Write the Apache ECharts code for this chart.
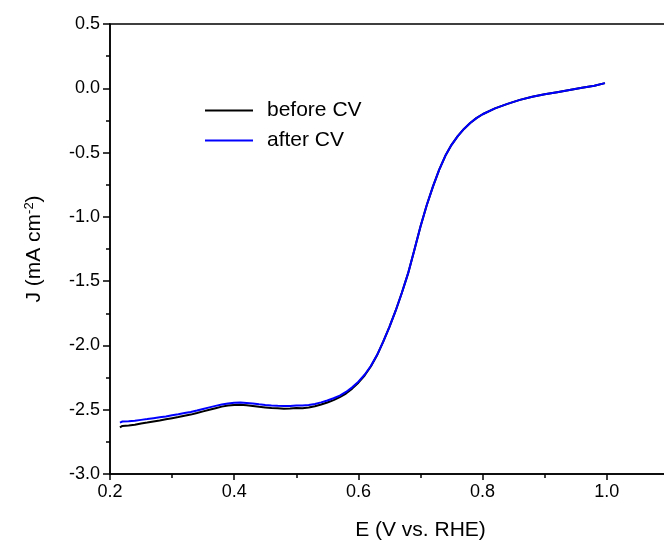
<!DOCTYPE html>
<html>
<head>
<meta charset="utf-8">
<script src="https://cdn.jsdelivr.net/npm/echarts@6/dist/echarts.min.js"></script>
<style>
  html, body { margin: 0; padding: 0; background: #fff; }
  #chart { width: 664px; height: 548px; }
</style>
</head>
<body>
<div id="chart"></div>
<script>
// potential (V vs. RHE)
const potentials = [
  0.216, 0.22, 0.23, 0.24, 0.25, 0.26, 0.27, 0.28, 0.29, 0.30, 0.31, 0.32, 0.33, 0.34, 0.35,
  0.36, 0.37, 0.38, 0.39, 0.40, 0.41, 0.42, 0.43, 0.44, 0.45, 0.46, 0.47, 0.48, 0.49, 0.50,
  0.51, 0.52, 0.53, 0.54, 0.55, 0.56, 0.57, 0.58, 0.59, 0.60, 0.61, 0.62, 0.63, 0.64, 0.65,
  0.66, 0.67, 0.68, 0.69, 0.70, 0.71, 0.72, 0.73, 0.74, 0.75, 0.76, 0.77, 0.78, 0.79, 0.80,
  0.82, 0.84, 0.86, 0.88, 0.90, 0.92, 0.94, 0.96, 0.98, 0.997
]

// current density, mA cm-2
const afterCV = [
  -2.600, -2.592, -2.590, -2.586, -2.579, -2.573, -2.566, -2.559, -2.552, -2.543, -2.535, -2.526, -2.517, -2.506, -2.494,
  -2.482, -2.470, -2.460, -2.451, -2.445, -2.444, -2.448, -2.452, -2.458, -2.463, -2.467, -2.470, -2.472, -2.471, -2.468,
  -2.468, -2.463, -2.455, -2.443, -2.428, -2.411, -2.390, -2.362, -2.326, -2.282, -2.228, -2.160, -2.075, -1.970, -1.855,
  -1.730, -1.590, -1.440, -1.260, -1.075, -0.910, -0.765, -0.635, -0.525, -0.440, -0.372, -0.316, -0.270, -0.232, -0.202,
  -0.156, -0.121, -0.090, -0.066, -0.047, -0.030, -0.013, 0.004, 0.020, 0.040
]

const beforeCV = [
  -2.638, -2.626, -2.622, -2.617, -2.607, -2.600, -2.592, -2.584, -2.575, -2.566, -2.557, -2.547, -2.538, -2.526, -2.513,
  -2.500, -2.488, -2.476, -2.468, -2.463, -2.462, -2.466, -2.471, -2.477, -2.482, -2.487, -2.489, -2.492, -2.490, -2.487,
  -2.489, -2.483, -2.473, -2.460, -2.444, -2.425, -2.402, -2.374, -2.336, -2.290, -2.234, -2.164, -2.077, -1.971, -1.856,
  -1.730, -1.590, -1.440, -1.260, -1.075, -0.910, -0.765, -0.635, -0.525, -0.440, -0.372, -0.316, -0.270, -0.232, -0.202,
  -0.156, -0.121, -0.090, -0.066, -0.047, -0.030, -0.013, 0.004, 0.020, 0.040
]

const font = 'Liberation Sans, Arial, sans-serif'
const pairs = ys => potentials.map((x, i) => [x, ys[i]])
const lineIcon = 'path://M0,0 L48,0 L48,2 L0,2 Z'

const chart = echarts.init(document.getElementById('chart'))

chart.setOption({
  animation: false,
  backgroundColor: '#fff',
  grid: {
    left: 110, top: 24, width: 621, height: 450,
    outerBoundsMode: 'none', containLabel: false,
    show: true, borderColor: '#000', borderWidth: 1.5, backgroundColor: 'transparent'
  },
  legend: {
    orient: 'vertical',
    left: 205, top: 100, padding: 0,
    itemWidth: 48, itemHeight: 2, itemGap: 9,
    textStyle: { fontFamily: font, fontSize: 21, color: '#000', padding: [0, 0, 0, 9], lineHeight: 21 },
    data: [
      { name: 'before CV', icon: lineIcon },
      { name: 'after CV', icon: lineIcon }
    ]
  },
  xAxis: {
    type: 'value',
    min: 0.2, max: 1.2, interval: 0.2,
    name: 'E (V vs. RHE)',
    nameLocation: 'middle',
    nameGap: 46,
    nameTextStyle: { fontFamily: font, fontSize: 21, color: '#000' },
    axisLine: { onZero: false, lineStyle: { color: '#000', width: 1.5 } },
    axisTick: { inside: false, length: 6, lineStyle: { color: '#000', width: 1.5 } },
    minorTick: { show: true, splitNumber: 2, length: 4, lineStyle: { color: '#000', width: 1.5 } },
    splitLine: { show: false },
    axisLabel: { fontFamily: font, fontSize: 18, color: '#000', margin: 9, formatter: v => v.toFixed(1) }
  },
  yAxis: {
    type: 'value',
    min: -3, max: 0.5, interval: 0.5,
    name: '{a|J (mA cm}{s|-2}{a|)}',
    nameLocation: 'middle',
    nameRotate: 90,
    nameGap: 64,
    nameTextStyle: {
      rich: {
        a: { fontFamily: font, fontSize: 21, color: '#000' },
        s: { fontFamily: font, fontSize: 13, color: '#000', verticalAlign: 'top', padding: [0, 0, 10, 0] }
      }
    },
    axisLine: { onZero: false, lineStyle: { color: '#000', width: 1.5 } },
    axisTick: { inside: false, length: 7, lineStyle: { color: '#000', width: 1.5 } },
    minorTick: { show: true, splitNumber: 2, length: 4, lineStyle: { color: '#000', width: 1.5 } },
    splitLine: { show: false },
    axisLabel: { fontFamily: font, fontSize: 18, color: '#000', margin: 10, formatter: v => v.toFixed(1) }
  },
  series: [
    {
      name: 'before CV', type: 'line', data: pairs(beforeCV),
      symbol: 'none', smooth: false,
      lineStyle: { color: '#000', width: 2 }, itemStyle: { color: '#000' }
    },
    {
      name: 'after CV', type: 'line', data: pairs(afterCV),
      symbol: 'none', smooth: false,
      lineStyle: { color: '#0000ff', width: 2 }, itemStyle: { color: '#0000ff' }
    }
  ]
})
</script>
</body>
</html>
